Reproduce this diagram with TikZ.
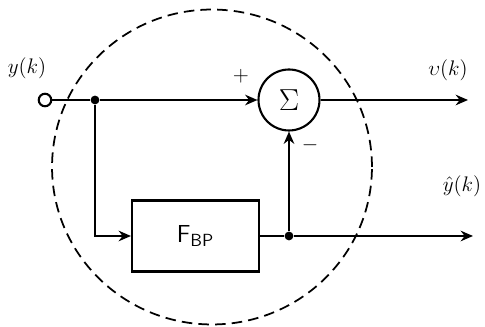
\documentclass[tikz,border=0pt]{standalone}
\usetikzlibrary{arrows.meta}
\begin{document}
\begin{tikzpicture}[x=0.02cm,y=-0.02cm,
  line width=1.2pt,
  arr/.style={-{Stealth[length=7pt,width=6pt]}},
  dot/.style={circle,fill,inner sep=0pt,minimum size=5pt},
  lbl/.style={font=\fontsize{13}{14}\selectfont},
  blk/.style={draw,rectangle,minimum width=2.54cm,minimum height=1.42cm,inner sep=0pt,line width=1.2pt}]
\useasboundingbox (0,0) rectangle (485,327);
% dashed boundary
\draw[line width=1pt,dash pattern=on 6pt off 3.5pt] (212,167) ellipse [x radius=3.2cm,y radius=3.15cm];
% nodes
\node[draw,circle,minimum size=0.25cm,inner sep=0pt,line width=1.2pt] (in) at (45,100) {};
\node[dot] (j1) at (95,100) {};
\node[draw,circle,minimum size=1.22cm,inner sep=0pt,line width=1.2pt,font=\fontsize{16}{17}\selectfont] (sum) at (289,100) {$\Sigma$};
\node[blk] (bp) at (195.5,236) {\sffamily\fontsize{14}{15}\selectfont F$_{\mathsf{BP}}$};
\node[dot] (j2) at (289,236) {};
\coordinate (o1) at (468,100);
\coordinate (o2) at (473,236);
% connectors
\draw (in) -- (j1);
\draw[arr] (j1) -- (sum);
\draw[arr] (j1) |- (bp.west);
\draw (bp.east) -- (j2);
\draw[arr] (j2) -- (o2);
\draw[arr] (j2) -- (sum.south);
\draw[arr] (sum.east) -- (o1);
% labels
\node[lbl] (ly) at (27,68) {$y(k)$};
\node[lbl] (lu) at (448,70) {$\upsilon(k)$};
\node[lbl,anchor=east,inner sep=1pt] (lyh) at (484,186) {$\hat{y}(k)$};
\node[lbl] (lp) at (241,76) {$+$};
\node[lbl] (lm) at (310,145) {$-$};
\end{tikzpicture}
\end{document}
